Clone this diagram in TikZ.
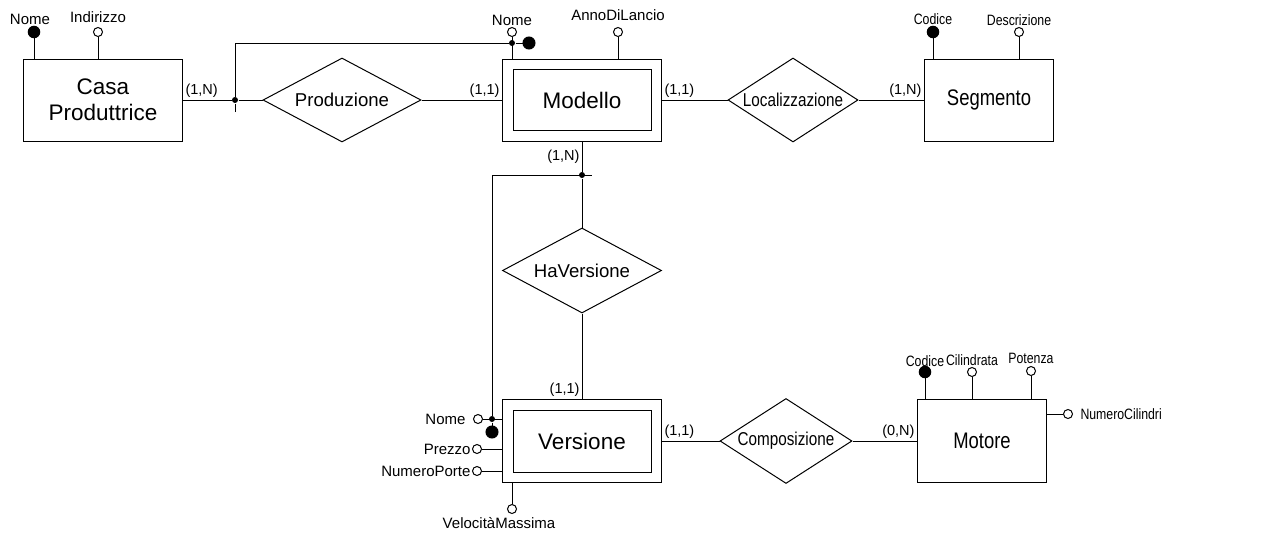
\documentclass[tikz,border=0pt]{standalone}
\usepackage{fontspec}
\setmainfont{Liberation Sans}
\newfontfamily\narrowfont[FakeStretch=0.82]{Liberation Sans}
\usetikzlibrary{shapes.geometric}

\tikzset{
  entity/.style={draw, minimum width=159pt, minimum height=82pt, align=center,
    inner sep=2pt, font=\fontsize{22.5}{26}\selectfont},
  weak/.style={entity, double, double distance=9.5pt, minimum width=148.5pt,
    minimum height=71.5pt, outer sep=5.75pt},
  relation/.style={draw, diamond, inner sep=0pt, font=\fontsize{18.6}{21}\selectfont},
  narrowent/.style={font=\narrowfont\fontsize{22.5}{26}\selectfont},
  narrowrel/.style={font=\narrowfont\fontsize{18.6}{21}\selectfont},
  attr/.style={draw, circle, fill=white, minimum size=9pt, inner sep=0pt},
  keyattr/.style={attr, fill=black, minimum size=11.5pt},
  jn/.style={circle, fill=black, minimum size=6pt, inner sep=0pt},
  lbl/.style={font=\fontsize{15}{17}\selectfont, inner sep=1pt},
  lbln/.style={font=\narrowfont\fontsize{15}{17}\selectfont, inner sep=1pt},
  card/.style={font=\fontsize{14.5}{17}\selectfont, inner sep=2pt},
}

\begin{document}
\begin{tikzpicture}[x=1pt, y=-1pt, line width=1pt]
  \useasboundingbox (0,0) rectangle (1286,533);
  % entita'
  \node[entity] (casa) at (103,100) {Casa\\Produttrice};
  \node[weak] (modello) at (582,100) {Modello};
  \node[entity, narrowent, minimum width=129pt] (segmento) at (989,100) {Segmento};
  \node[weak, minimum height=72.5pt] (versione) at (582,441) {Versione};
  \node[entity, narrowent, minimum width=129pt, minimum height=83pt] (motore) at (982,441) {Motore};
  % relazioni
  \node[relation, minimum width=158pt, minimum height=84pt, aspect=1.88] (produzione) at (342,100) {Produzione};
  \node[relation, narrowrel, minimum width=130pt, minimum height=84pt, aspect=1.55] (localizzazione) at (793,100) {Localizzazione};
  \node[relation, minimum width=159pt, minimum height=85pt, aspect=1.87] (haversione) at (582,270.5) {HaVersione};
  \node[relation, narrowrel, minimum width=132pt, minimum height=85pt, aspect=1.55] (composizione) at (786,441) {Composizione};
  % attributi
  \node[keyattr, label={[lbl, xshift=-4pt]above:Nome}] (casaNome) at (34,32) {};
  \node[attr, label={[lbl, label distance=3pt]above:Indirizzo}] (casaIndirizzo) at (98,32) {};
  \node[attr, label={[lbl]above:Nome}] (modNome) at (512,32) {};
  \node[attr, label={[lbl, label distance=5pt]above:AnnoDiLancio}] (modAnno) at (618,32) {};
  \node[keyattr, label={[lbln]above:Codice}] (segCodice) at (933,32) {};
  \node[attr, label={[lbln]above:Descrizione}] (segDescr) at (1019,32) {};
  \node[attr, label={[lbl, label distance=6pt]left:Nome}] (verNome) at (478,419) {};
  \node[attr, label={[lbl]left:Prezzo}] (verPrezzo) at (477,449) {};
  \node[attr, label={[lbl]left:NumeroPorte}] (verPorte) at (477,471) {};
  \node[attr, label={[lbl, xshift=-13pt, label distance=2pt]below:VelocitàMassima}] (verVel) at (512,509) {};
  \node[keyattr, label={[lbln, label distance=-2pt]above:Codice}] (motCodice) at (925,372) {};
  \node[attr, label={[lbln]above:Cilindrata}] (motCil) at (972,372) {};
  \node[attr, label={[lbln, label distance=1pt]above:Potenza}] (motPot) at (1031,371) {};
  \node[attr, label={[lbln, label distance=6pt]right:NumeroCilindri}] (motNumCil) at (1068,414) {};
  % identificatori esterni
  \node[jn] (j1) at (235,100) {};
  \coordinate (j1stub) at (235,112);
  \coordinate (modAngle) at (235,43);
  \node[jn] (jmod) at (512,43) {};
  \node[keyattr, minimum size=12pt] (modKey) at (529,43) {};
  \node[jn] (j2) at (582,175) {};
  \coordinate (j2stub) at (592,175);
  \coordinate (verAngle) at (492,175);
  \node[jn] (jver) at (492,419) {};
  \node[keyattr, minimum size=12pt] (verKey) at (492,432) {};

  \draw (casa) to node[card, above right, pos=0]{(1,N)} (j1);
  \draw (j1) -- (produzione);
  \draw (produzione) to node[card, above left, pos=1]{(1,1)} (modello);
  \draw (j1stub) -- (j1) -- (modAngle) -- (jmod) -- (modKey);
  \draw (modello) to node[card, above right, pos=0]{(1,1)} (localizzazione);
  \draw (localizzazione) to node[card, above left, pos=1]{(1,N)} (segmento);
  \draw (modello) to node[card, left, pos=0.5]{(1,N)} (j2);
  \draw (j2) -- (haversione);
  \draw (verAngle) -- (j2stub);
  \draw (verAngle) -- (jver) -- (verKey);
  \draw (haversione) to node[card, above left, pos=1]{(1,1)} (versione);
  \draw (versione) to node[card, above right, pos=0]{(1,1)} (composizione);
  \draw (composizione) to node[card, above left, pos=1]{(0,N)} (motore);
  % linee degli attributi
  \draw (casaNome) -- (casaNome |- casa.north);
  \draw (casaIndirizzo) -- (casaIndirizzo |- casa.north);
  \draw (modNome) -- (modNome |- modello.north);
  \draw (modAnno) -- (modAnno |- modello.north);
  \draw (segCodice) -- (segCodice |- segmento.north);
  \draw (segDescr) -- (segDescr |- segmento.north);
  \draw (verNome) -- (verNome -| versione.west);
  \draw (verPrezzo) -- (verPrezzo -| versione.west);
  \draw (verPorte) -- (verPorte -| versione.west);
  \draw (verVel) -- (verVel |- versione.south);
  \draw (motCodice) -- (motCodice |- motore.north);
  \draw (motCil) -- (motCil |- motore.north);
  \draw (motPot) -- (motPot |- motore.north);
  \draw (motNumCil) -- (motNumCil -| motore.east);
\end{tikzpicture}
\end{document}
